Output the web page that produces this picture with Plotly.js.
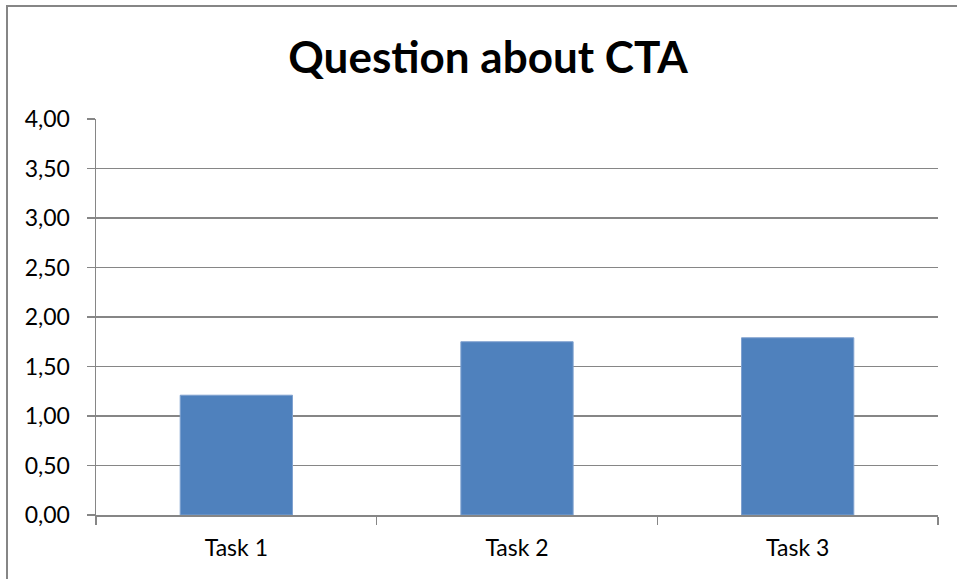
<!DOCTYPE html>
<html>
<head>
<meta charset="utf-8">
<script src="https://cdn.plot.ly/plotly-3.0.1.min.js"></script>
<style>
html,body{margin:0;padding:0;background:#fff;}
#wrap{position:relative;width:957px;height:579px;overflow:hidden;}
#chart{width:957px;height:579px;}
#frame{position:absolute;left:6px;top:5px;width:1000px;height:700px;border:2px solid #868686;pointer-events:none;box-sizing:border-box;}
</style>
</head>
<body>
<div id="wrap"><div id="chart"></div><div id="frame"></div></div>
<script>
const categories = ["Task 1", "Task 2", "Task 3"];
const values = [1.21, 1.75, 1.79];
const yTickVals = [0, 0.5, 1, 1.5, 2, 2.5, 3, 3.5, 4];
const yTickText = ["0,00", "0,50", "1,00", "1,50", "2,00", "2,50", "3,00", "3,50", "4,00"];

const trace = {
  type: "bar",
  x: categories,
  y: values,
  marker: {color: "#4F81BD", line: {color: "#7FA1CF", width: 1}},
  hoverinfo: "x+y"
};

const layout = {
  width: 957, height: 579,
  margin: {l: 96, r: 19, t: 119, b: 64},
  paper_bgcolor: "#ffffff",
  plot_bgcolor: "#ffffff",
  showlegend: false,
  bargap: 0.6,
  title: {
    text: "<b>Question about CTA</b>",
    font: {family: "Lato, 'Open Sans', sans-serif", size: 44, color: "#000"},
    x: 0.51, xanchor: "center", y: 0.9, yanchor: "middle"
  },
  xaxis: {
    type: "category",
    showgrid: false,
    showline: true, linecolor: "#868686", linewidth: 1.5,
    ticks: "outside", tickson: "boundaries", ticklen: 8, tickcolor: "#868686", tickwidth: 1.5,
    ticklabelstandoff: 12,
    tickfont: {family: "Lato, sans-serif", size: 23, color: "#000"},
    zeroline: false, fixedrange: true
  },
  yaxis: {
    range: [0, 4],
    tickvals: yTickVals, ticktext: yTickText,
    showgrid: true, gridcolor: "#868686", gridwidth: 1.5,
    showline: true, linecolor: "#868686", linewidth: 1.5,
    ticks: "outside", ticklen: 8, tickcolor: "#868686", tickwidth: 1.5,
    ticklabelstandoff: 12,
    tickfont: {family: "Lato, sans-serif", size: 23, color: "#000"},
    zeroline: false, fixedrange: true
  }
};

Plotly.newPlot("chart", [trace], layout, {displayModeBar: false, staticPlot: true});
</script>
</body>
</html>
